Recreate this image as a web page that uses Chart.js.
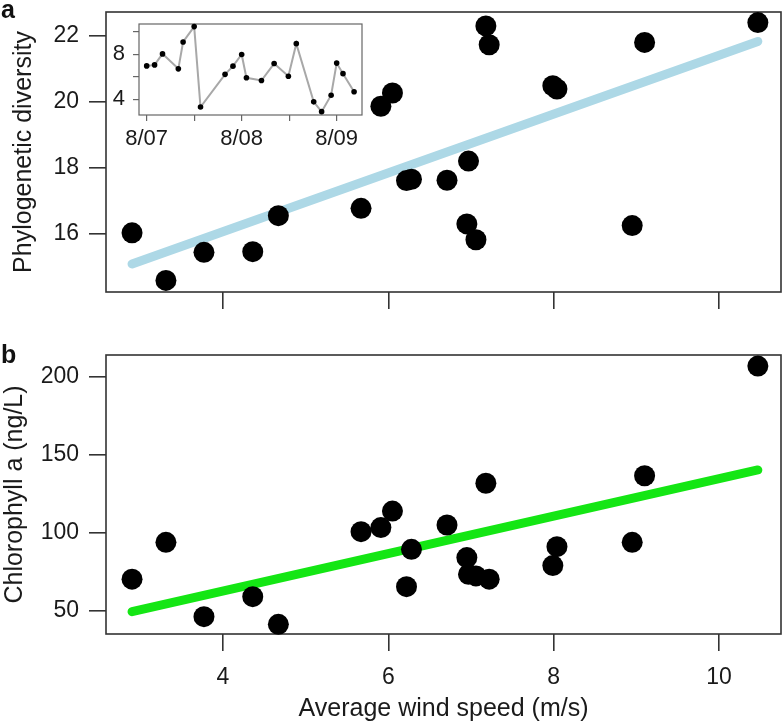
<!DOCTYPE html>
<html>
<head>
<meta charset="utf-8">
<script src="https://cdn.jsdelivr.net/npm/chart.js@4.4.1/dist/chart.umd.min.js"></script>
<style>
  body { margin: 0; background: #fff; }
  #wrap { position: relative; width: 783px; height: 727px; }
  canvas { position: absolute; }
</style>
</head>
<body>
<div id="wrap">
  <canvas id="chart-a" width="783" height="330" style="left:0;top:0;width:783px;height:330px"></canvas>
  <canvas id="chart-b" width="783" height="397" style="left:0;top:330px;width:783px;height:397px"></canvas>
  <canvas id="chart-inset" width="320" height="150" style="left:60px;top:10px;width:320px;height:150px"></canvas>
</div>
<script>
// one value per sampling date, same order in every array
const windSpeed = [2.90, 3.31, 3.77, 4.36, 4.67, 5.67, 5.91, 6.05, 6.22, 6.28, 6.71,
  6.95, 6.97, 7.06, 7.18, 7.22, 7.99, 8.04, 8.95, 9.10, 10.47];
const phyloDiversity = [16.04, 14.60, 15.45, 15.47, 16.56, 16.78, 19.87, 20.27, 17.62, 17.66, 17.63,
  16.31, 18.21, 15.83, 22.30, 21.73, 20.49, 20.39, 16.26, 21.80, 22.40];
const chlorophyll = [70.4, 94.0, 46.4, 59.2, 41.5, 100.8, 103.4, 114.0, 65.6, 89.5, 105.1,
  84.2, 73.5, 72.5, 131.8, 70.4, 79.1, 91.2, 94.0, 136.6, 206.8];

// fitted lines, read at both ends
const fitWind = [2.90, 10.47];
const fitDiversity = [15.10, 21.83];
const fitChlorophyll = [49.6, 140.3];

// inset: wind speed through time (months after 8/07)
const sampleMonth = [0, 1, 2, 4, 4.6, 6, 6.8, 9.9, 10.9, 12, 12.6,
  14.5, 16.1, 17.9, 18.9, 21.1, 22.1, 23.3, 24, 24.8, 26.2];
const sampleWind = [6.97, 7.06, 8.04, 6.71, 9.10, 10.47, 3.31, 6.22, 6.95, 7.99, 5.91,
  5.67, 7.18, 6.05, 8.95, 3.77, 2.90, 4.36, 7.22, 6.28, 4.67];

const windTicks = [4, 6, 8, 10];
const diversityTicks = [16, 18, 20, 22];
const chlorophyllTicks = [50, 100, 150, 200];
const insetWindTicks = [4, 6, 8, 10];
const insetWindLabels = ['4', '', '8', ''];
const monthTicks = [0, 6, 12, 18, 24];
const monthLabels = ['8/07', '', '8/08', '', '8/09'];

const family = '"Liberation Sans", Arial, Helvetica, sans-serif';
const ink = '#1a1a1a';
const axisColor = '#333';

// box round the plot area plus the panel letter
const frame = {
  id: 'frame',
  beforeDatasetsDraw(chart, args, opts) {
    const { ctx, chartArea: a } = chart;
    ctx.save();
    if (opts.fill) {
      ctx.fillStyle = '#fff';
      ctx.fillRect(a.left, a.top, a.right - a.left, a.bottom - a.top);
    }
    ctx.strokeStyle = opts.color;
    ctx.lineWidth = opts.width;
    ctx.strokeRect(a.left, a.top, a.right - a.left, a.bottom - a.top);
    if (opts.label) {
      ctx.font = `bold 25px ${family}`;
      ctx.fillStyle = '#111';
      ctx.textBaseline = 'alphabetic';
      ctx.fillText(opts.label, opts.labelX, opts.labelY);
    }
    ctx.restore();
  }
};

const fixedTicks = values => scale => {
  scale.ticks = values.map(value => ({ value }));
};

// fixed axis size, and no extra room asked for by the end labels
const fixedSize = (key, size) => scale => {
  scale[key] = size;
  scale.paddingTop = 0;
  scale.paddingBottom = 0;
  scale.paddingLeft = 0;
  scale.paddingRight = 0;
};

const tickMarks = (length, color, width) => ({
  display: true,
  drawOnChartArea: false,
  drawTicks: true,
  tickLength: length,
  color,
  lineWidth: width
});

const points = ys => ({
  data: windSpeed.map((x, i) => ({ x, y: ys[i] })),
  backgroundColor: '#000',
  borderColor: '#000',
  pointRadius: 10.5,
  pointBorderWidth: 0,
  clip: false
});

const fitLine = (ys, color) => ({
  type: 'line',
  data: fitWind.map((x, i) => ({ x, y: ys[i] })),
  borderColor: color,
  borderWidth: 9,
  borderCapStyle: 'round',
  pointRadius: 0,
  fill: false
});

const common = {
  responsive: false,
  animation: false,
  events: [],
  plugins: { legend: { display: false }, tooltip: { enabled: false } }
};

new Chart(document.getElementById('chart-a'), {
  type: 'scatter',
  data: { datasets: [points(phyloDiversity), fitLine(fitDiversity, '#add8e6')] },
  options: {
    ...common,
    layout: { autoPadding: false, padding: { top: 12, right: 2, left: 0, bottom: 0 } },
    plugins: {
      ...common.plugins,
      frame: { color: axisColor, width: 1.6, label: 'a', labelX: 1, labelY: 18 }
    },
    scales: {
      x: {
        type: 'linear', min: 2.585, max: 10.75,
        afterBuildTicks: fixedTicks(windTicks),
        afterFit: fixedSize('height', 38),
        grid: tickMarks(17, axisColor, 1.6),
        border: { display: false },
        ticks: { display: false }
      },
      y: {
        type: 'linear', min: 14.25, max: 22.72,
        afterBuildTicks: fixedTicks(diversityTicks),
        afterFit: fixedSize('width', 106),
        grid: tickMarks(17, axisColor, 1.6),
        border: { display: false },
        ticks: { font: { family, size: 23 }, color: ink, padding: 10 },
        title: {
          display: true, text: 'Phylogenetic diversity', color: ink,
          font: { family, size: 25 }, padding: { top: 9, bottom: 0 }
        }
      }
    }
  },
  plugins: [frame]
});

new Chart(document.getElementById('chart-b'), {
  type: 'scatter',
  data: { datasets: [points(chlorophyll), fitLine(fitChlorophyll, '#14e614')] },
  options: {
    ...common,
    layout: { autoPadding: false, padding: { top: 25, right: 2, left: 0, bottom: 0 } },
    plugins: {
      ...common.plugins,
      frame: { color: axisColor, width: 1.6, label: 'b', labelX: 1, labelY: 33 }
    },
    scales: {
      x: {
        type: 'linear', min: 2.585, max: 10.75,
        afterBuildTicks: fixedTicks(windTicks),
        afterFit: fixedSize('height', 93),
        grid: tickMarks(17, axisColor, 1.6),
        border: { display: false },
        ticks: { font: { family, size: 23 }, color: ink, padding: 13, maxRotation: 0 },
        title: {
          display: true, text: 'Average wind speed (m/s)', color: ink,
          font: { family, size: 25 }, padding: { top: 0, bottom: 3 }
        }
      },
      y: {
        type: 'linear', min: 35.3, max: 213.9,
        afterBuildTicks: fixedTicks(chlorophyllTicks),
        afterFit: fixedSize('width', 106),
        grid: tickMarks(17, axisColor, 1.6),
        border: { display: false },
        ticks: { font: { family, size: 23 }, color: ink, padding: 10 },
        title: {
          display: true, text: 'Chlorophyll a (ng/L)', color: ink,
          font: { family, size: 25 }, padding: { top: 0, bottom: 0 }
        }
      }
    }
  },
  plugins: [frame]
});

new Chart(document.getElementById('chart-inset'), {
  type: 'scatter',
  data: {
    datasets: [{
      data: sampleMonth.map((x, i) => ({ x, y: sampleWind[i] })),
      showLine: true,
      borderColor: '#a8a8a8',
      borderWidth: 2,
      backgroundColor: '#000',
      pointRadius: 2.8,
      pointBorderWidth: 0,
      clip: false
    }]
  },
  options: {
    ...common,
    layout: { autoPadding: false, padding: { top: 14, right: 18, left: 0, bottom: 0 } },
    plugins: {
      ...common.plugins,
      frame: { color: '#666', width: 1.2, fill: true }
    },
    scales: {
      x: {
        type: 'linear', min: -0.97, max: 27.2,
        afterBuildTicks: fixedTicks(monthTicks),
        afterFit: fixedSize('height', 45),
        grid: tickMarks(6, '#666', 1.2),
        border: { display: false },
        ticks: {
          font: { family, size: 22 }, color: ink, padding: 5, maxRotation: 0, autoSkip: false,
          callback: (value, i) => monthLabels[i]
        }
      },
      y: {
        type: 'linear', min: 2.6, max: 10.7,
        afterBuildTicks: fixedTicks(insetWindTicks),
        afterFit: fixedSize('width', 79),
        grid: tickMarks(6, '#666', 1.2),
        border: { display: false },
        ticks: {
          font: { family, size: 22 }, color: ink, padding: 8, autoSkip: false,
          callback: (value, i) => insetWindLabels[i]
        }
      }
    }
  },
  plugins: [frame]
});
</script>
</body>
</html>
